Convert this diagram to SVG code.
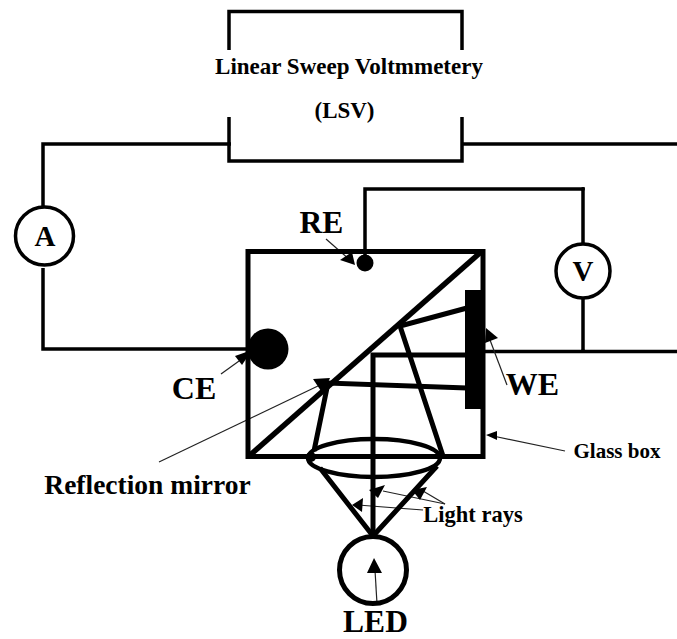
<svg xmlns="http://www.w3.org/2000/svg" width="677" height="639" viewBox="0 0 677 639">
<style>
text{font-family:"Liberation Serif","Times New Roman",serif;font-weight:bold;fill:#000}
.w{fill:none;stroke:#000;stroke-width:3.5;stroke-linejoin:miter}
.t{fill:none;stroke:#000;stroke-width:5.5}
.m{fill:none;stroke:#000;stroke-width:5}
.c{fill:#fff;stroke:#000;stroke-width:3.5}
.a{fill:none;stroke:#222;stroke-width:1.2}
.h{fill:#000}
</style>
<rect width="677" height="639" fill="#fff"/>
<g id="connectors">
<path class="w" d="M229 50V11.500H462V50"/>
<path class="w" d="M229 117V161H462V117"/>
<path class="w" d="M231 144H43V208"/>
<path class="w" d="M462 144H677"/>
<path class="w" d="M43 268V349H250"/>
<path class="w" d="M365 263V189H583V245"/>
<circle cx="583" cy="189" r="2" class="h"/>
<path class="w" d="M583 297V351"/>
<path class="w" d="M484 351.500H677"/>
<circle cx="583" cy="351" r="2" class="h"/>
<g id="arrows">
<path class="a" d="M326 239L350 260"/><path class="h" d="M355 265L340 260L352 252Z"/>
<path class="a" d="M221 374L246 356"/><path class="h" d="M252 350L242 365L235 356Z"/>
<path class="a" d="M159 462L320 385"/><path class="h" d="M323 394L313 379L330 378Z"/>
<path class="a" d="M507 385L490 340"/><path class="h" d="M486 328L498 338L485 343Z"/>
<path class="a" d="M565 451L493 436"/><path class="h" d="M486 435L497 431L497 440Z"/>
<path class="a" d="M445 504L383 491"/><path class="h" d="M378 498L369 490L385 485Z"/>
<path class="a" d="M445 504L423 491"/><path class="h" d="M420 500L412 490L427 487Z"/>
<path class="a" d="M423 510L358 505"/><path class="h" d="M352 505L363 498L362 512Z"/>
<path class="a" d="M377 604L375 570"/><path class="h" d="M374 558L382 573L367 573Z"/>
</g>
</g>
<g id="glass-box"><rect x="248" y="251.500" width="235" height="205" fill="none" stroke="#000" stroke-width="5"/></g>
<g id="mirror"><path class="t" d="M249 456L481 252"/></g>
<g id="light-rays">
<path class="m" d="M373 536V355H467"/>
<path class="m" d="M314 451L328 383L467 388"/>
<path class="m" d="M443 456L400 326L467 308"/>
<path class="m" d="M373 536L320 468M373 536L437 466"/>
</g>
<g id="lens"><ellipse cx="374" cy="458" rx="66" ry="19" fill="none" stroke="#000" stroke-width="4.500"/><circle cx="311" cy="457" r="5" class="h"/></g>
<g id="ce"><circle cx="268" cy="349" r="20.500" class="h"/></g>
<g id="re"><circle cx="365" cy="263" r="8.500" class="h"/></g>
<g id="we"><rect x="465" y="290" width="16" height="119" class="h"/></g>
<g id="ammeter"><circle class="c" cx="44.500" cy="236" r="29"/><text x="45" y="246" font-size="29" text-anchor="middle">A</text></g>
<g id="voltmeter"><circle class="c" cx="583" cy="271" r="27"/><text x="583" y="281" font-size="29" text-anchor="middle">V</text></g>
<g id="led"><circle cx="373" cy="570" r="33.500" fill="none" stroke="#000" stroke-width="5"/></g>
<g id="labels">
<text x="349" y="74" font-size="23" text-anchor="middle">Linear Sweep Voltmmetery</text>
<text x="344.500" y="118" font-size="23" text-anchor="middle">(LSV)</text>
<text x="321.500" y="233" font-size="31.500" text-anchor="middle">RE</text>
<text x="194" y="399" font-size="32" text-anchor="middle">CE</text>
<text x="532.500" y="395" font-size="32" text-anchor="middle">WE</text>
<text x="617" y="458" font-size="21" text-anchor="middle">Glass box</text>
<text x="147.500" y="494" font-size="27.500" text-anchor="middle">Reflection mirror</text>
<text x="473" y="522" font-size="22.500" text-anchor="middle">Light rays</text>
<text x="375.500" y="632" font-size="31.500" text-anchor="middle">LED</text>
</g>
</svg>
